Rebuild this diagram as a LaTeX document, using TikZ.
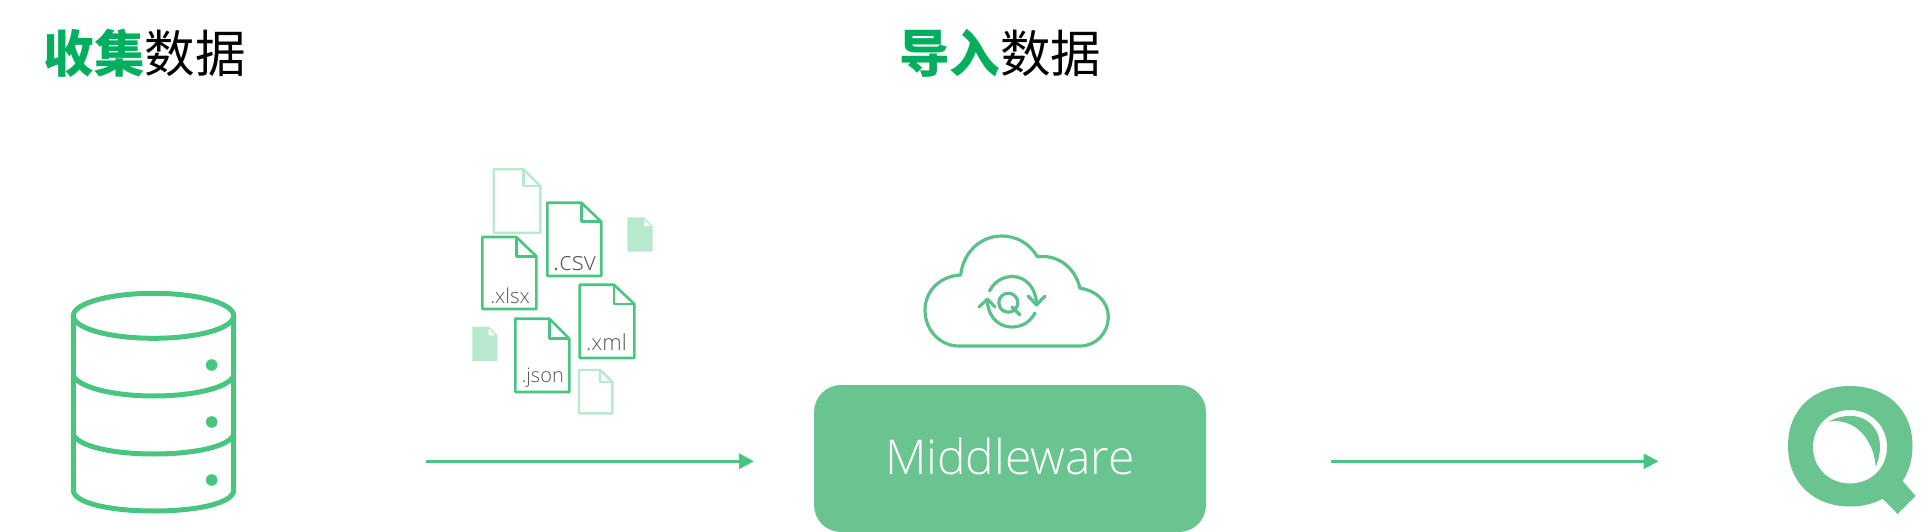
\documentclass[tikz,border=0pt]{standalone}
\usepackage{fontspec}
\usetikzlibrary{arrows.meta}
\newfontfamily\cjkfont{Noto Sans CJK SC}
\newfontfamily\labelfont{Open Sans Light}
\definecolor{gline}{HTML}{48C580}
\definecolor{gbox}{HTML}{69C490}
\definecolor{gpale}{HTML}{B8E8CE}
\definecolor{gtitle}{HTML}{00AE5E}
\definecolor{gcloud}{HTML}{5CC08A}
\definecolor{gtext}{HTML}{555555}
\tikzset{
  x=1pt,y=-1pt,
  dbline/.style={draw=gline,line width=5pt,line join=round},
  docline/.style={draw=gline,line width=2.6pt,line join=round},
  paleline/.style={draw=gpale,line width=2.4pt,line join=round},
  doclabel/.style={text=gtext,inner sep=0pt,anchor=base east},
  flow/.style={draw=gline,line width=3pt,-{Triangle[length=15pt,width=15pt]}},
  titletext/.style={font=\cjkfont\fontsize{50.5}{50.5}\selectfont,inner sep=0pt,anchor=base west},
  cloudline/.style={draw=gcloud,line width=3.2pt,line cap=round,line join=round},
}
\newcommand{\docshape}[7]{% style x0 y0 x1 y1 fx fy
  \draw[#1] (#2,#3) -- (#6,#3) -- (#4,#7) -- (#4,#5) -- (#2,#5) -- cycle;
  \draw[#1] (#6,#3) -- (#6,#7) -- (#4,#7);}
\newcommand{\docfilled}[6]{% x0 y0 x1 y1 fx fy
  \fill[gpale] (#1,#2) -- (#5,#2) -- (#3,#6) -- (#3,#4) -- (#1,#4) -- cycle;
  \fill[white] (#5,#2+2.2) -- (#5,#6) -- (#3-2.2,#6) -- cycle;}
\begin{document}
\begin{tikzpicture}
\useasboundingbox (0,0) rectangle (1923,532);
% titles
\node[titletext] (t1) at (43.5,73) {{\bfseries\color{gtitle}收集}\color{black}数据};
\node[titletext] (t2) at (899,73) {{\bfseries\color{gtitle}导入}\color{black}数据};
% database
\draw[dbline] (73.3,315) -- (73.3,490) .. controls (73.3,503) and (110,511) .. (153.8,511) .. controls (198,511) and (233.7,503) .. (233.7,490) -- (233.7,315);
\draw[dbline] (153.5,315.8) circle [x radius=80.2,y radius=22.5];
\draw[dbline] (73.3,376) .. controls (80,388) and (115,396) .. (153.8,396) .. controls (193,396) and (228,388) .. (233.7,376);
\draw[dbline] (73.3,435) .. controls (80,447) and (115,454) .. (153.8,454) .. controls (193,454) and (228,447) .. (233.7,435);
\foreach \yy in {365,422,480} \fill[gline] (211.7,\yy) circle (5.8);
% files
\docshape{paleline}{493.7}{169.3}{540.3}{232.7}{523.3}{186}
\docshape{paleline}{579}{370}{612.3}{413.3}{600}{381.7}
\docfilled{627.3}{217.3}{652.7}{251.7}{644}{226}
\docfilled{472.3}{326.7}{497.3}{361}{488.7}{335.3}
\docshape{docline}{547.3}{202.7}{601.3}{276}{581.3}{221.7}
\docshape{docline}{482.3}{237}{536.3}{309}{516.3}{256.3}
\docshape{docline}{579.7}{284.7}{634.3}{358}{614}{304}
\docshape{docline}{515.3}{318.7}{569.3}{392}{549.3}{338.7}
\node[doclabel,font=\labelfont\fontsize{26}{26}\selectfont] (csv) at (596,270.7) {.csv};
\node[doclabel,font=\labelfont\fontsize{20.5}{20.5}\selectfont] (xlsx) at (530,303.3) {.xlsx};
\node[doclabel,font=\labelfont\fontsize{22}{22}\selectfont] (xml) at (627,350) {.xml};
\node[doclabel,font=\labelfont\fontsize{20}{20}\selectfont] (json) at (564,382.7) {.json};
% cloud
\draw[cloudline] (958.3,346) -- (1080,346)
  .. controls (1096,346) and (1108.3,333) .. (1108.3,316.7)
  .. controls (1108.3,302) and (1096,290) .. (1080,288.3)
  .. controls (1076,270) and (1060,254) .. (1037.3,256.7)
  .. controls (1030,244) and (1017,236) .. (1001.7,236)
  .. controls (980,236) and (963,253) .. (960.7,275)
  .. controls (940,276) and (925,291) .. (925,310)
  .. controls (925,331) and (941,346) .. (958.3,346) -- cycle;
\draw[cloudline] (1008.3,302.7) circle (9.5);
\draw[cloudline] (1012,307) -- (1020,315);
\draw[cloudline] (989.5,291) .. controls (996,278) and (1008,276.5) .. (1012,276.5) .. controls (1026,276.5) and (1036,288) .. (1036.5,304);
\draw[cloudline] (1028,296) -- (1036.5,305) -- (1045,296);
\draw[cloudline] (1035,313) .. controls (1030,322) and (1022,327) .. (1012,327) .. controls (996,327) and (987,313) .. (987.5,300);
\draw[cloudline] (979,307) -- (987.5,299) -- (995,307);
% middleware
\node[fill=gbox,rounded corners=27pt,minimum width=392pt,minimum height=147pt,inner sep=0pt] (mw) at (1010,458.5) {};
\node[text=white,inner sep=0pt,font=\labelfont\fontsize{48}{48}\selectfont] (mwtext) at (1010,456) {Middleware};
% Q logo
\fill[gbox,even odd rule]
  (1788,446) .. controls (1788,408) and (1815,386) .. (1850,386)
  .. controls (1885,386) and (1912.5,408) .. (1912.5,446)
  .. controls (1912.5,484) and (1885,506.5) .. (1850,506.5)
  .. controls (1815,506.5) and (1788,484) .. (1788,446) -- cycle
  (1813,447) .. controls (1813,425) and (1830,410) .. (1850,410)
  .. controls (1870,410) and (1887,425) .. (1887,447)
  .. controls (1887,469) and (1870,483.5) .. (1850,483.5)
  .. controls (1830,483.5) and (1813,469) .. (1813,447) -- cycle;
\fill[gbox] (1900,478) -- (1915.7,496) -- (1897.7,514) -- (1880,496) -- cycle;
\fill[gbox] (1828.3,421.7) .. controls (1845,413) and (1862,414) .. (1872,425)
  .. controls (1882,436) and (1882,452) .. (1875.7,466.7)
  .. controls (1874,440) and (1855,417) .. (1828.3,421.7) -- cycle;
% arrows
\coordinate (a1s) at (426,461.3);
\coordinate (a1e) at (754,461.3);
\coordinate (a2s) at (1330.5,461.3);
\coordinate (a2e) at (1658.5,461.3);
\draw[flow] (a1s) -- (a1e);
\draw[flow] (a2s) -- (a2e);
\end{tikzpicture}
\end{document}
